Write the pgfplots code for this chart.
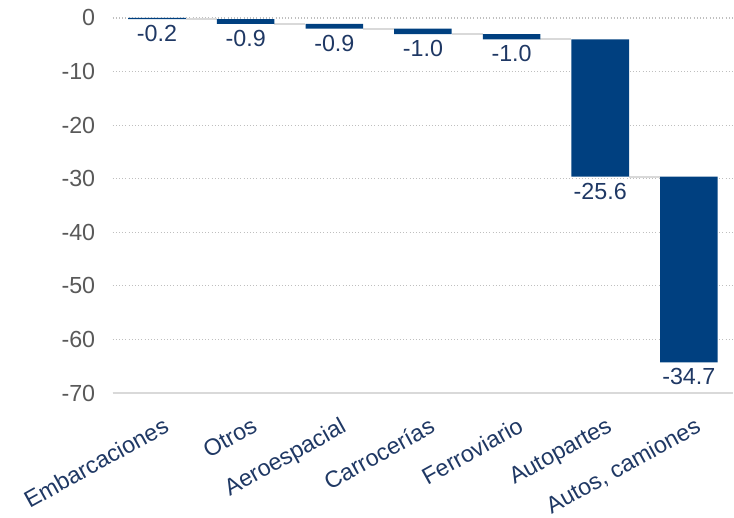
\documentclass[border=0pt]{standalone}
\usepackage{pgfplots}
\pgfplotsset{compat=1.18}
\usepackage{pgfplotstable}
\usepackage{fontspec}
\setmainfont{Liberation Sans}
\definecolor{barblue}{HTML}{004080}
\definecolor{lblblue}{HTML}{1F3864}
\definecolor{tickgray}{HTML}{595959}
\definecolor{gridgray}{HTML}{BFBFBF}
\definecolor{conngray}{HTML}{D9D9D9}

\pgfplotstableread{
x base delta end label
0 0 -0.2 -0.2 -0.2
1 -0.2 -0.9 -1.1 -0.9
2 -1.1 -0.9 -2.0 -0.9
3 -2.0 -1.0 -3.0 -1.0
4 -3.0 -1.0 -4.0 -1.0
5 -4.0 -25.6 -29.6 -25.6
6 -29.6 -34.7 -64.3 -34.7
}\datatable

\pgfplotstableread{
x y
0.325 -0.2
0.675 -0.2
nan nan
1.325 -1.1
1.675 -1.1
nan nan
2.325 -2.0
2.675 -2.0
nan nan
3.325 -3.0
3.675 -3.0
nan nan
4.325 -4.0
4.675 -4.0
nan nan
5.325 -29.6
5.675 -29.6
}\conntable

\pgfplotsset{
  common/.style={
    scale only axis,
    width=466.5pt, height=282pt,
    xmin=-0.5, xmax=6.5,
    ymin=-70, ymax=0,
    clip=false,
  }
}

\begin{document}
\begin{tikzpicture}
\begin{axis}[
  common,
  axis lines*=left,
  y axis line style={draw=none},
  x axis line style={draw=conngray, line width=1.3pt},
  major tick length=0pt,
  ytick={-70,-60,...,0},
  xtick={0,...,6},
  xticklabels={Embarcaciones, Otros, Aeroespacial, Carrocerías, Ferroviario, Autopartes, {Autos, camiones}},
  ymajorgrids,
  grid style={draw=gridgray, dotted, line width=0.9pt},
  /pgf/number format/assume math mode=true,
  yticklabel style={font=\fontsize{17.5}{20}\selectfont, text=tickgray, inner sep=0pt, xshift=-13pt},
  xticklabel style={font=\fontsize{17.5}{20}\selectfont, text=lblblue, rotate=29, anchor=north east, inner sep=0pt, yshift=-17pt, xshift=-5pt},
  unbounded coords=jump,
]
\addplot[draw=conngray, line width=1.5pt] table[x=x, y=y] {\conntable};
\path (rel axis cs:-0.1817,-0.3165) rectangle (rel axis cs:0.9984,1.0479);
\end{axis}
\begin{axis}[
  common,
  hide axis,
  ybar stacked,
  bar width=0.65,
]
\addplot[draw=none, fill=none] table[x=x, y=base] {\datatable};
\addplot[fill=barblue, draw=none] table[x=x, y=delta] {\datatable};
\end{axis}
\begin{axis}[
  common,
  hide axis,
]
\addplot[only marks, mark=none,
  nodes near coords,
  point meta=explicit symbolic,
  nodes near coords style={anchor=north, font=\fontsize{17.5}{20}\selectfont, text=lblblue, inner sep=0pt, yshift=-4.5pt},
] table[x=x, y=end, meta=label] {\datatable};
\end{axis}
\end{tikzpicture}
\end{document}
